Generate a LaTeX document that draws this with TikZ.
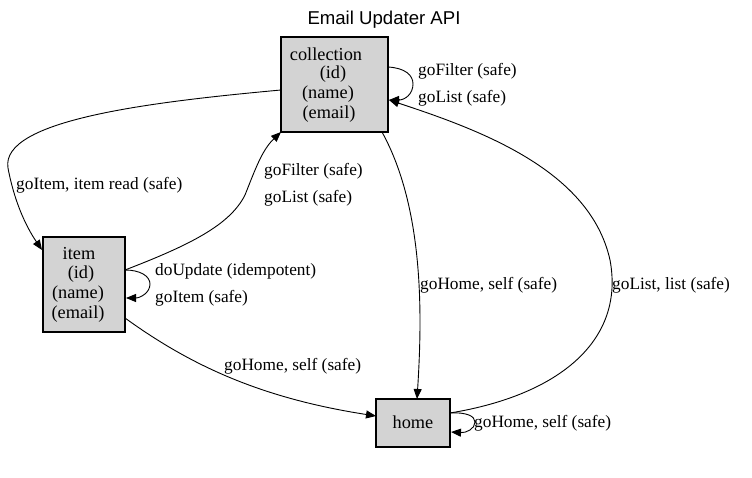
\documentclass[tikz,border=0pt]{standalone}
\usepackage{fontspec}
\setmainfont{Liberation Serif}
\newfontfamily\titlefont{Liberation Sans}
\usetikzlibrary{arrows.meta}
\begin{document}
\begin{tikzpicture}[x=1pt,y=-1pt,
  box/.style={draw,line width=2pt,fill={rgb,255:red,211;green,211;blue,211},inner sep=0pt},
  txt/.style={font=\fontsize{18.3}{18.3}\selectfont,inner sep=0pt},
  lbl/.style={font=\fontsize{17.3}{17.3}\selectfont,inner sep=0pt,anchor=west},
  edge/.style={line width=0.9pt,-{Triangle[length=10pt,width=8pt]}}]
\useasboundingbox (0,0) rectangle (752,478);
\node[font=\titlefont\fontsize{18.6}{18.6}\selectfont,inner sep=0pt] (title) at (384,20) {Email Updater API};
% nodes
\node[box,minimum width=107pt,minimum height=95pt] (collection) at (334.5,84.5) {};
\node[txt] (c1) at (326,54) {collection};
\node[txt] (c2) at (333,74) {(id)};
\node[txt] (c3) at (328,94) {(name)};
\node[txt] (c4) at (329,114) {(email)};
\node[box,minimum width=82pt,minimum height=95pt] (item) at (84,284.5) {};
\node[txt] (i1) at (79,254) {item};
\node[txt] (i2) at (81,274) {(id)};
\node[txt] (i3) at (78,294) {(name)};
\node[txt] (i4) at (78,314) {(email)};
\node[box,minimum width=74pt,minimum height=48pt] (home) at (413,423) {};
\node[txt] (h1) at (413,422) {home};
% coordinates on borders
\coordinate (cL) at (281,90);
\coordinate (cBL) at (281,132);
\coordinate (cB) at (382,132);
\coordinate (cR1) at (388,67);
\coordinate (cR2) at (389,100);
\coordinate (iTL) at (42,250);
\coordinate (iR1) at (125,270);
\coordinate (iR2) at (126,298);
\coordinate (iR3) at (125,318);
\coordinate (hT) at (417,399);
\coordinate (hL) at (376,416);
\coordinate (hR1) at (450,413);
\coordinate (hR2) at (451,432);
% edges
\draw[edge] (cL) .. controls (150,102) and (0,120) .. (8,168) .. controls (14,200) and (25,225) .. (iTL);
\node[lbl] (l1) at (16,185) {goItem, item read (safe)};
\draw[edge] (iR1) .. controls (190,245) and (230,225) .. (245,195) .. controls (255,170) and (262,150) .. (cBL);
\node[lbl] (l2) at (264,171) {goFilter (safe)};
\node[lbl] (l3) at (264,198) {goList (safe)};
\draw[edge] (cR1) .. controls (405,68) and (413,75) .. (413,84) .. controls (413,94) and (405,100) .. (cR2);
\node[lbl] (l4) at (418,71) {goFilter (safe)};
\node[lbl] (l5) at (418,98) {goList (safe)};
\draw[edge] (iR1) .. controls (140,270) and (150,276) .. (150,284) .. controls (150,293) and (140,298) .. (iR2);
\node[lbl] (l6) at (155,271) {doUpdate (idempotent)};
\node[lbl] (l7) at (155,298) {goItem (safe)};
\draw[edge] (cB) .. controls (425,210) and (422,320) .. (hT);
\node[lbl] (l8) at (420,285) {goHome, self (safe)};
\draw[edge] (hR1) .. controls (560,395) and (625,340) .. (610,260) .. controls (590,170) and (480,130) .. (cR2);
\node[lbl] (l9) at (612,285) {goList, list (safe)};
\draw[edge] (iR3) .. controls (190,365) and (260,398) .. (hL);
\node[lbl] (l10) at (224,366) {goHome, self (safe)};
\draw[edge] (hR1) .. controls (466,412) and (475,416) .. (475,422) .. controls (475,429) and (466,433) .. (hR2);
\node[lbl] (l11) at (474,423) {goHome, self (safe)};
\end{tikzpicture}
\end{document}
